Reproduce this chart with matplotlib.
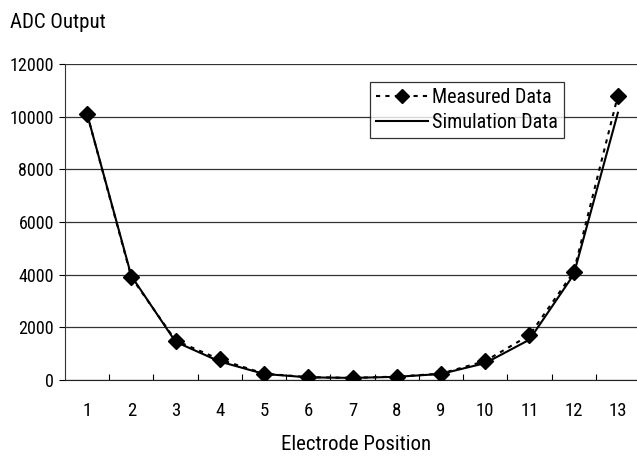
import matplotlib
matplotlib.use("Agg")
import matplotlib.pyplot as plt
from matplotlib import font_manager as fm

names = {f.name for f in fm.fontManager.ttflist}
fam = [n for n in ['Roboto Condensed', 'PT Sans Narrow', 'Archivo Narrow', 'Liberation Sans'] if n in names][:1]
plt.rcParams['font.family'] = fam + ['DejaVu Sans']

positions = [1, 2, 3, 4, 5, 6, 7, 8, 9, 10, 11, 12, 13]
measured = [10100, 3900, 1500, 780, 240, 110, 80, 130, 240, 720, 1700, 4100, 10800]
simulation = [10100, 3950, 1450, 700, 230, 100, 80, 120, 230, 640, 1530, 4000, 10150]
yticks = [0, 2000, 4000, 6000, 8000, 10000, 12000]

fig = plt.figure(figsize=(6.37, 4.59), dpi=100)
ax = fig.add_axes([65/637, 1-380/459, (640-65)/637, (380-64)/459])

ax.plot(positions, measured, linestyle=(0, (2, 2.5)), color='black', lw=1.5,
        marker='D', markersize=8, markerfacecolor='black', label='Measured Data', zorder=3)
ax.plot(positions, simulation, linestyle='-', color='black', lw=1.5,
        label='Simulation Data', zorder=4)

ax.set_xlim(0.5, 13.5)
ax.set_ylim(0, 12000)
ax.set_yticks(yticks)
ax.set_yticklabels([str(v) for v in yticks])
ax.set_xticks(positions)
ax.set_xticklabels([str(p) for p in positions])
ax.set_xticks([p + 0.5 for p in positions[:-1]], minor=True)
ax.tick_params(axis='x', which='major', length=0, pad=16, labelsize=13.5)
ax.tick_params(axis='x', which='minor', length=4, direction='in', width=0.8)
ax.tick_params(axis='y', length=4, direction='out', labelsize=13, pad=4)
ax.yaxis.grid(True, color='#333333', lw=0.9)
ax.set_axisbelow(True)
for s in ['top', 'right']:
    ax.spines[s].set_visible(False)
ax.spines['left'].set_color('#333333')
ax.spines['bottom'].set_color('#222222')

fig.text(10/637, 1-22/459, 'ADC Output', fontsize=15, va='center', ha='left')
fig.text(356/637, 1-445/459, 'Electrode Position', fontsize=15, va='center', ha='center')

leg = ax.legend(loc='upper left', bbox_to_anchor=((370-65)/575, 1-(82-64)/316),
                fontsize=14.5, frameon=True, fancybox=False, edgecolor='black',
                borderpad=0.3, handlelength=2.6, handletextpad=0.2, labelspacing=0.3,
                borderaxespad=0, markerscale=0.9)
leg.get_frame().set_linewidth(0.9)

fig.savefig('out.png', dpi=100)
